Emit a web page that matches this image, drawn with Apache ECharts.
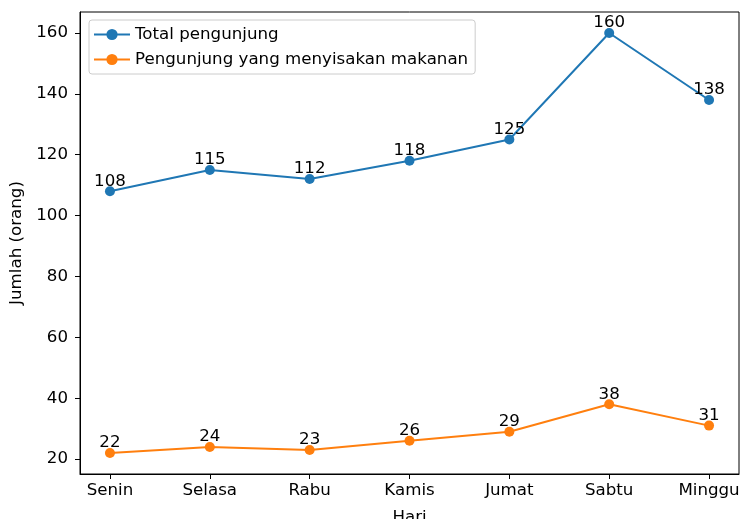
<!DOCTYPE html>
<html>
<head>
<meta charset="utf-8">
<script src="https://cdn.jsdelivr.net/npm/echarts@6/dist/echarts.min.js"></script>
<style>html,body{margin:0;padding:0;background:#fff;}#chart{width:740px;height:519px;}</style>
</head>
<body>
<div id="chart"></div>
<script>
const days = ['Senin', 'Selasa', 'Rabu', 'Kamis', 'Jumat', 'Sabtu', 'Minggu'];
const totalVisitors = [108, 115, 112, 118, 125, 160, 138];
const leftoverVisitors = [22, 24, 23, 26, 29, 38, 31];
const yTicks = [20, 40, 60, 80, 100, 120, 140, 160];
const seriesNames = ['Total pengunjung', 'Pengunjung yang menyisakan makanan'];

const FONT = 'DejaVu Sans';
const FS = 16.67;
const xIdx = days.map((d, i) => i);
const toPairs = arr => arr.map((v, i) => [i, v]);

const chart = echarts.init(document.getElementById('chart'), null, {renderer: 'canvas'});
const labelCfg = {
  show: true, position: 'top', distance: -3.5,
  color: '#000', fontSize: FS, fontFamily: FONT,
  formatter: p => String(p.value[1])
};
chart.setOption({
  animation: false,
  textStyle: {fontFamily: FONT},
  grid: {left: 80, right: 1, top: 12, bottom: 45, outerBoundsMode: 'none', containLabel: false,
         show: true, borderColor: '#000', borderWidth: 1, backgroundColor: 'transparent'},
  legend: {
    orient: 'vertical', left: 89, top: 20,
    padding: [6, 7, 6, 4], itemGap: 8, itemWidth: 36, itemHeight: 14, itemTextGap: 13,
    backgroundColor: 'rgba(255,255,255,0.8)', borderColor: '#cccccc', borderWidth: 1, borderRadius: 3,
    textStyle: {fontSize: FS, fontFamily: FONT, color: '#000', lineHeight: 17},
    data: seriesNames
  },
  xAxis: {
    type: 'value', min: -0.3, max: 6.3,
    name: 'Hari', nameLocation: 'middle', nameGap: 35,
    nameTextStyle: {fontSize: FS, fontFamily: FONT, color: '#000'},
    axisLine: {show: true, onZero: false, lineStyle: {color: '#000', width: 1}},
    axisTick: {show: true, customValues: xIdx, length: 5, inside: false, lineStyle: {color: '#000'}},
    axisLabel: {customValues: xIdx, formatter: v => days[Math.round(v)], fontSize: FS, fontFamily: FONT, color: '#000', margin: 8},
    splitLine: {show: false}
  },
  yAxis: {
    type: 'value', min: 15.1, max: 166.9,
    name: 'Jumlah (orang)', nameLocation: 'middle', nameGap: 52,
    nameTextStyle: {fontSize: FS, fontFamily: FONT, color: '#000'},
    axisLine: {show: true, onZero: false, lineStyle: {color: '#000', width: 1}},
    axisTick: {show: true, customValues: yTicks, length: 5, lineStyle: {color: '#000'}},
    axisLabel: {customValues: yTicks, fontSize: FS, fontFamily: FONT, color: '#000', margin: 12},
    splitLine: {show: false}
  },
  series: [
    {name: seriesNames[0], type: 'line', data: toPairs(totalVisitors), symbol: 'circle', symbolSize: 10,
     itemStyle: {color: '#1f77b4'}, lineStyle: {color: '#1f77b4', width: 2}, label: labelCfg},
    {name: seriesNames[1], type: 'line', data: toPairs(leftoverVisitors), symbol: 'circle', symbolSize: 10,
     itemStyle: {color: '#ff7f0e'}, lineStyle: {color: '#ff7f0e', width: 2}, label: labelCfg}
  ]
});
</script>
</body>
</html>
